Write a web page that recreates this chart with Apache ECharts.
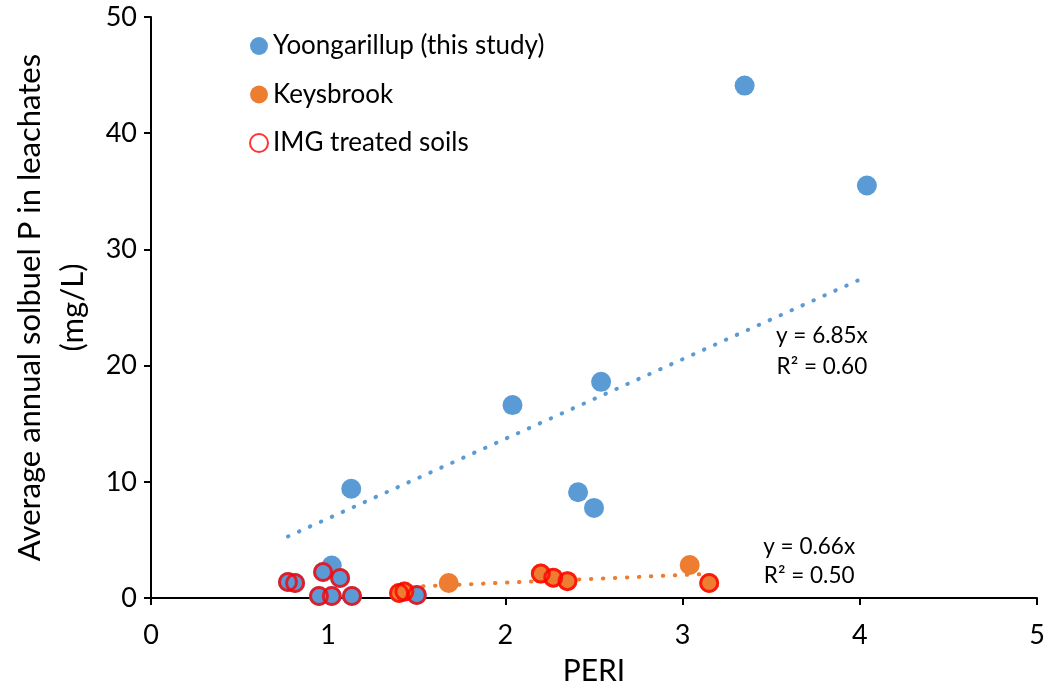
<!DOCTYPE html>
<html>
<head>
<meta charset="utf-8">
<script src="https://cdn.jsdelivr.net/npm/echarts@6/dist/echarts.min.js"></script>
<style>
  html, body { margin: 0; padding: 0; background: #fff; }
  #chart { width: 1046px; height: 682px; }
</style>
</head>
<body>
<div id="chart"></div>
<script>
// PERI vs average annual soluble P in leachates
const yoongarillupPeri = [0.773, 0.813, 0.971, 1.067, 0.948, 1.02, 1.134, 1.02, 1.13, 1.50, 2.04, 2.54, 2.41, 2.50, 3.35, 4.04];
const yoongarillupP    = [1.38, 1.29, 2.24, 1.72, 0.17, 0.17, 0.17, 2.8, 9.4, 0.26, 16.6, 18.6, 9.1, 7.75, 44.1, 35.5];

const keysbrookPeri = [1.40, 1.43, 1.68, 2.20, 2.27, 2.35, 3.04, 3.15];
const keysbrookP    = [0.43, 0.55, 1.29, 2.10, 1.75, 1.45, 2.84, 1.29];

// soils treated with IMG (plotted over the site points)
const imgPeri = [0.773, 0.813, 0.971, 1.067, 0.948, 1.02, 1.134, 1.50, 1.40, 1.43, 2.20, 2.27, 2.35, 3.15];
const imgP    = [1.38, 1.29, 2.24, 1.72, 0.17, 0.17, 0.17, 0.26, 0.43, 0.55, 2.10, 1.75, 1.45, 1.29];

// linear fits through the origin
const yoongarillupSlope = 6.85, yoongarillupR2 = '0.60';
const keysbrookSlope = 0.66, keysbrookR2 = '0.50';

const xTicks = [0, 1, 2, 3, 4, 5];
const yTicks = [0, 10, 20, 30, 40, 50];

const FONT = 'Lato, "Open Sans", sans-serif';
const BLUE = '#5B9BD5', ORANGE = '#ED7D31', RED = '#FF0000';

const pairs = (xs, ys) => xs.map((x, i) => [x, ys[i]]);
const fitLine = (xs, k) => {
  const lo = Math.min(...xs), hi = Math.max(...xs);
  return [[lo, k * lo], [hi, k * hi]];
};

const chart = echarts.init(document.getElementById('chart'), null, { renderer: 'canvas' });

chart.setOption({
  animation: false,
  backgroundColor: '#fff',
  grid: { left: 151, right: 9, top: 17, bottom: 84, containLabel: false, outerBoundsMode: 'none' },
  legend: {
    orient: 'vertical',
    left: 249, top: 33, padding: 0,
    itemWidth: 18, itemHeight: 18, itemGap: 22.5,
    icon: 'circle',
    textStyle: { fontFamily: FONT, fontSize: 26, color: '#000', lineHeight: 20, padding: [0, 0, 0, 0] },
    data: ['Yoongarillup (this study)', 'Keysbrook', 'IMG treated soils']
  },
  xAxis: {
    type: 'value', min: xTicks[0], max: xTicks[xTicks.length - 1], interval: 1,
    name: 'PERI', nameLocation: 'middle', nameGap: 58,
    nameTextStyle: { fontFamily: FONT, fontSize: 30, color: '#000' },
    axisLine: { lineStyle: { color: '#000', width: 2 } },
    axisTick: { show: true, inside: false, length: 7, lineStyle: { color: '#000', width: 2 } },
    axisLabel: { fontFamily: FONT, fontSize: 27, color: '#000', margin: 24 },
    splitLine: { show: false }
  },
  yAxis: {
    type: 'value', min: yTicks[0], max: yTicks[yTicks.length - 1], interval: 10,
    name: 'Average annual solbuel P in leachates\n(mg/L)', nameLocation: 'middle', nameGap: 57,
    nameTextStyle: { fontFamily: FONT, fontSize: 31, color: '#000', lineHeight: 43 },
    axisLine: { show: true, lineStyle: { color: '#000', width: 2 } },
    axisTick: { show: true, inside: false, length: 7, lineStyle: { color: '#000', width: 2 } },
    axisLabel: { fontFamily: FONT, fontSize: 27, color: '#000', margin: 14 },
    splitLine: { show: false }
  },
  series: [
    {
      name: 'Yoongarillup (this study)', type: 'scatter', symbol: 'circle', symbolSize: 20,
      itemStyle: { color: BLUE, opacity: 1 },
      data: pairs(yoongarillupPeri, yoongarillupP), z: 2
    },
    {
      name: 'Keysbrook', type: 'scatter', symbol: 'circle', symbolSize: 20,
      itemStyle: { color: ORANGE, opacity: 1 },
      data: pairs(keysbrookPeri, keysbrookP), z: 2
    },
    {
      name: 'Yoongarillup fit', type: 'line', showSymbol: false, symbol: 'none', silent: true,
      lineStyle: { color: BLUE, width: 4, type: [0.5, 11.5], cap: 'round' },
      data: fitLine(yoongarillupPeri, yoongarillupSlope), z: 3,
      endLabel: {
        show: true, align: 'center', verticalAlign: 'middle', offset: [-45, 75],
        formatter: 'y = ' + yoongarillupSlope.toFixed(2) + 'x\nR² = ' + yoongarillupR2,
        fontFamily: FONT, fontSize: 22.5, color: '#000', lineHeight: 31, distance: 0
      }
    },
    {
      name: 'Keysbrook fit', type: 'line', showSymbol: false, symbol: 'none', silent: true,
      lineStyle: { color: ORANGE, width: 4, type: [0.5, 11.5], cap: 'round' },
      data: fitLine(keysbrookPeri, keysbrookSlope), z: 3,
      endLabel: {
        show: true, align: 'center', verticalAlign: 'middle', offset: [100, -13],
        formatter: 'y = ' + keysbrookSlope.toFixed(2) + 'x\nR² = ' + keysbrookR2,
        fontFamily: FONT, fontSize: 22.5, color: '#000', lineHeight: 29, distance: 0
      }
    },
    {
      name: 'IMG treated soils', type: 'scatter', symbol: 'circle', symbolSize: 17,
      itemStyle: { color: 'rgba(255,255,255,0)', borderColor: RED, borderWidth: 3 },
      data: pairs(imgPeri, imgP), z: 4
    }
  ]
});
</script>
</body>
</html>
